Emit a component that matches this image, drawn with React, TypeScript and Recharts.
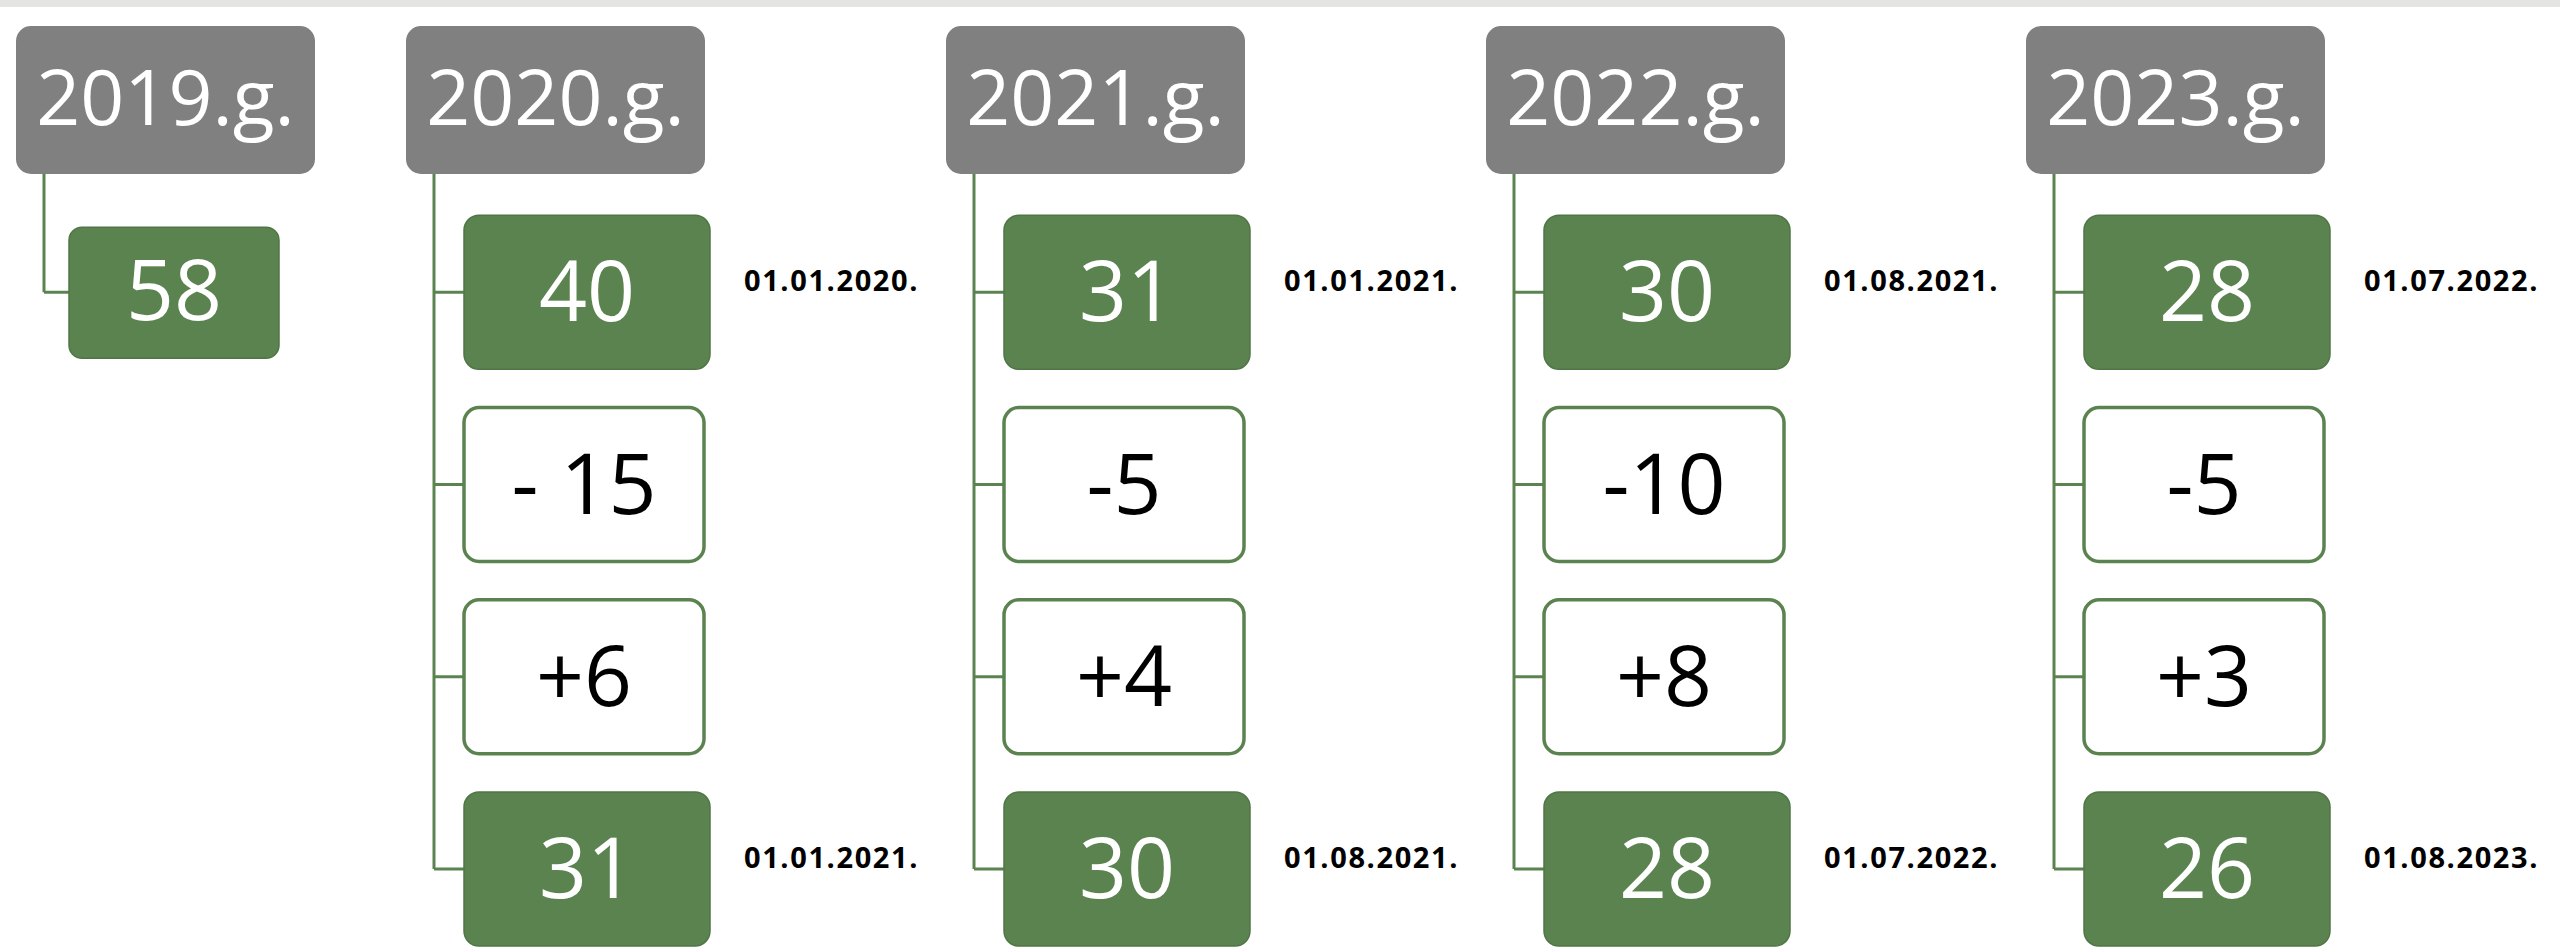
import { Scatter, ScatterChart, XAxis, YAxis } from "recharts";

const baseYear = 2019;
const baseValue = 58;
const years = [2020, 2021, 2022, 2023];
const openingValues = [40, 31, 30, 28];
const decreaseLabels = ["- 15", "-5", "-10", "-5"];
const increaseLabels = ["+6", "+4", "+8", "+3"];
const closingValues = [31, 30, 28, 26];
const openingDates = ["01.01.2020.", "01.01.2021.", "01.08.2021.", "01.07.2022."];
const closingDates = ["01.01.2021.", "01.08.2021.", "01.07.2022.", "01.08.2023."];

const W = 2560;
const H = 951;
const GREEN = "#5b8350";
const GREEN_EDGE = "#507646";
const GRAY = "#808080";
const FONT = "'Open Sans', sans-serif";

// layout of the hidden scales: 540px per year, rows ~192px apart
const PX_YEAR = 540;
const yearsMin = 2020 - 434 / PX_YEAR;
const baseMin = baseYear - 44 / PX_YEAR;
const ROW_PX = 192.25;
const rowMin = -100 / ROW_PX;

type Node = { x: number; row: number; kind: string; label: string; date?: string };

const baseColumn: Node[] = [
  { x: baseYear, row: 0, kind: "header", label: `${baseYear}.g.` },
  { x: baseYear, row: 1, kind: "base", label: String(baseValue) },
];

const columns: Node[][] = years.map((year, i) => [
  { x: year, row: 0, kind: "header", label: `${year}.g.` },
  { x: year, row: 1, kind: "total", label: String(openingValues[i]), date: openingDates[i] },
  { x: year, row: 2, kind: "change", label: decreaseLabels[i] },
  { x: year, row: 3, kind: "change", label: increaseLabels[i] },
  { x: year, row: 4, kind: "total", label: String(closingValues[i]), date: closingDates[i] },
]);

function Box(props: any) {
  const { cx, cy, payload } = props;
  const p = payload as Node;

  if (p.kind === "header") {
    const left = cx - 28;
    return (
      <g>
        <rect x={left} y={cy - 74} width={299} height={148} rx={15} fill={GRAY} />
        <text x={left + 149.5} y={cy + 25} textAnchor="middle" fill="#fff" fontSize={77} fontFamily={FONT}>
          {p.label}
        </text>
      </g>
    );
  }

  if (p.kind === "base") {
    const left = cx + 25;
    return (
      <g>
        <line x1={cx} y1={cy} x2={left} y2={cy} stroke={GREEN} strokeWidth={3} />
        <rect x={left} y={cy - 65} width={210} height={131} rx={13} fill={GREEN} stroke={GREEN_EDGE} strokeWidth={1.5} />
        <text x={left + 105} y={cy + 28} textAnchor="middle" fill="#fff" fontSize={84} fontFamily={FONT}>
          {p.label}
        </text>
      </g>
    );
  }

  const left = cx + 30;
  const green = p.kind === "total";
  const w = green ? 246 : 240;
  return (
    <g>
      <line x1={cx} y1={cy} x2={left} y2={cy} stroke={GREEN} strokeWidth={3} />
      <rect
        x={left}
        y={cy - 77}
        width={w}
        height={154}
        rx={15}
        fill={green ? GREEN : "#fff"}
        stroke={green ? GREEN_EDGE : GREEN}
        strokeWidth={green ? 1.5 : 3.5}
      />
      <text
        x={left + w / 2}
        y={cy + 29}
        textAnchor="middle"
        fill={green ? "#fff" : "#000"}
        fontSize={84}
        fontFamily={FONT}
      >
        {p.label}
      </text>
      {p.date && (
        <text x={cx + 310} y={cy - 1} fill="#000" fontSize={29} fontWeight={700} letterSpacing={1.6} fontFamily={FONT}>
          {p.date}
        </text>
      )}
    </g>
  );
}

export default function App() {
  return (
    <div style={{ position: "relative", width: W, height: H, background: "#fff" }}>
      <style>{"body{margin:0}"}</style>
      <div style={{ position: "absolute", left: 0, top: 0, width: W, height: 7, background: "#e4e5e3" }} />
      <ScatterChart width={W} height={H} margin={{ top: 0, right: 0, bottom: 0, left: 0 }}>
        <XAxis
          xAxisId="years"
          type="number"
          dataKey="x"
          domain={[yearsMin, yearsMin + W / PX_YEAR]}
          allowDataOverflow
          hide
        />
        <XAxis
          xAxisId="base"
          type="number"
          dataKey="x"
          domain={[baseMin, baseMin + W / PX_YEAR]}
          allowDataOverflow
          hide
        />
        <YAxis
          type="number"
          dataKey="row"
          domain={[rowMin, rowMin + H / ROW_PX]}
          reversed
          allowDataOverflow
          hide
        />
        <Scatter
          xAxisId="base"
          data={baseColumn}
          line={{ stroke: GREEN, strokeWidth: 3 }}
          shape={(props: any) => <Box {...props} />}
          isAnimationActive={false}
        />
        {columns.map((col) => (
          <Scatter
            key={col[0].x}
            xAxisId="years"
            data={col}
            line={{ stroke: GREEN, strokeWidth: 3 }}
            shape={(props: any) => <Box {...props} />}
            isAnimationActive={false}
          />
        ))}
      </ScatterChart>
    </div>
  );
}
